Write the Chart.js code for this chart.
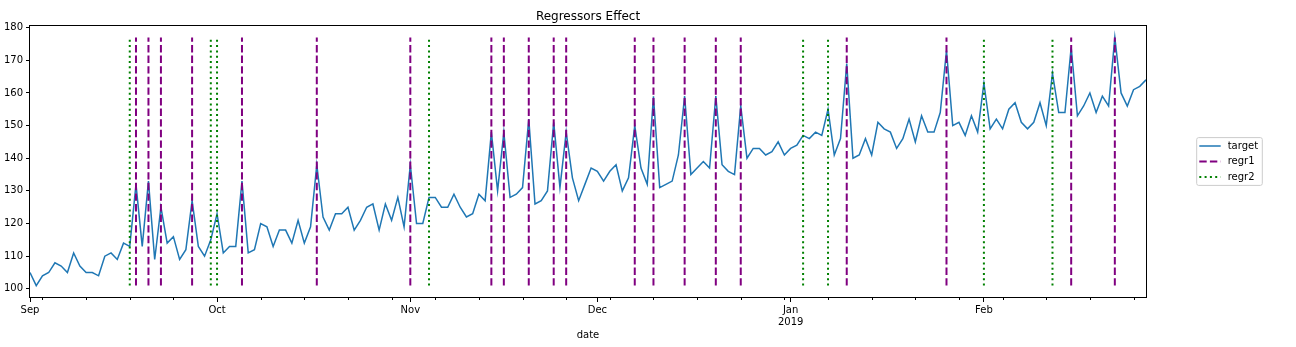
<!DOCTYPE html>
<html lang="en">
<head>
    <meta charset="UTF-8">
    <title>Regressors Effect</title>
    <script src="https://cdn.jsdelivr.net/npm/chart.js@4"></script>
    <style>
        html, body { margin: 0; padding: 0; background: #fff; }
        #wrap { width: 1296px; height: 347px; }
    </style>
</head>
<body>
<div id="wrap"><canvas id="chart" width="1296" height="347"></canvas></div>
<script>
    // daily series, starting at startDate
    const startDate = '2018-09-01';
    const target = [
        105, 101, 104, 105, 108, 107, 105, 111, 107, 105,
        105, 104, 110, 111, 109, 114, 113, 132, 113, 133,
        109, 125, 114, 116, 109, 112, 127, 113, 110, 115,
        123, 111, 113, 113, 133, 111, 112, 120, 119, 113,
        118, 118, 114, 121, 114, 119, 138, 122, 118, 123,
        123, 125, 118, 121, 125, 126, 118, 126, 121, 128,
        119, 138, 120, 120, 128, 128, 125, 125, 129, 125,
        122, 123, 129, 127, 148, 130, 148, 128, 129, 131,
        152, 126, 127, 130, 151, 131, 148, 134, 127, 132,
        137, 136, 133, 136, 138, 130, 134, 150, 137, 132,
        159, 131, 132, 133, 141, 159, 135, 137, 139, 137,
        159, 138, 136, 135, 156, 140, 143, 143, 141, 142,
        145, 141, 143, 144, 147, 146, 148, 147, 155, 141,
        146, 169, 140, 141, 146, 141, 151, 149, 148, 143,
        146, 152, 145, 153, 148, 148, 154, 173, 150, 151,
        147, 153, 148, 163, 149, 152, 149, 155, 157, 151,
        149, 151, 157, 150, 166, 154, 154, 174, 153, 156,
        160, 154, 159, 156, 177, 160, 156, 161, 162, 164
    ];

    const regr1Dates = [
        '2018-09-18', '2018-09-20', '2018-09-22', '2018-09-27', '2018-10-05',
        '2018-10-17', '2018-11-01', '2018-11-14', '2018-11-16', '2018-11-20',
        '2018-11-24', '2018-11-26', '2018-12-07', '2018-12-10', '2018-12-15',
        '2018-12-20', '2018-12-24', '2019-01-10', '2019-01-26', '2019-02-15',
        '2019-02-22'
    ];
    const regr2Dates = [
        '2018-09-17', '2018-09-30', '2018-10-01', '2018-11-04',
        '2019-01-03', '2019-01-07', '2019-02-01', '2019-02-12'
    ];

    // x ticks: month starts (labelled) and weekly mondays (short, unlabelled)
    const monthTickDays = [0, 30, 61, 91, 122, 153];
    const monthTickLabels = [['Sep'], ['Oct'], ['Nov'], ['Dec'], ['Jan', '2019'], ['Feb']];
    const weekTickDays = [2, 9, 16, 23, 37, 44, 51, 58, 65, 72, 79, 86, 93,
        100, 107, 114, 121, 128, 135, 142, 149, 156, 163, 170, 177];
    const yTicks = [100, 110, 120, 130, 140, 150, 160, 170, 180];
    const yMin = 97.2, yMax = 180.8;

    const FONT = "'DejaVu Sans', sans-serif";
    Chart.defaults.font.family = FONT;
    Chart.defaults.font.size = 10;
    Chart.defaults.color = '#000';

    const DAY = 86400000;
    const dayIndex = s => Math.round((Date.parse(s) - Date.parse(startDate)) / DAY);

    // vertical lines go from min to max of the target
    const yLo = Math.min(...target);
    const yHi = Math.max(...target);
    function vlineData(dates) {
        const pts = [];
        dates.forEach(d => {
            const x = dayIndex(d);
            pts.push({ x: x, y: yLo }, { x: x, y: yHi }, { x: x, y: null });
        });
        return pts;
    }

    // box around the plot, short minor ticks, legend on the right
    const frame = {
        id: 'frame',
        afterDraw(chart) {
            const { ctx, chartArea: a } = chart;
            ctx.save();
            ctx.strokeStyle = '#000';
            ctx.lineWidth = 1;
            ctx.strokeRect(Math.round(a.left) - 0.5, Math.round(a.top) + 0.5,
                Math.round(a.right - a.left) + 1, Math.round(a.bottom - a.top) - 1);

            const xs = chart.scales.x;
            ctx.beginPath();
            weekTickDays.forEach(d => {
                const px = Math.round(xs.getPixelForValue(d)) + 0.5;
                ctx.moveTo(px, Math.round(a.bottom));
                ctx.lineTo(px, Math.round(a.bottom) + 2);
            });
            ctx.stroke();

            const sets = chart.data.datasets;
            const rowH = 15.5, pad = 8.4;
            const x0 = a.right + 50.7;
            const h = pad * 2 + rowH * (sets.length - 1);
            const y0 = (a.top + a.bottom) / 2 - h / 2;
            ctx.beginPath();
            ctx.roundRect(x0, y0, 65.6, h, 2);
            ctx.fillStyle = 'rgba(255,255,255,0.8)';
            ctx.fill();
            ctx.strokeStyle = '#cccccc';
            ctx.lineWidth = 1;
            ctx.stroke();

            sets.forEach((ds, i) => {
                const y = y0 + pad + i * rowH;
                ctx.beginPath();
                ctx.strokeStyle = ds.borderColor;
                ctx.lineWidth = ds.borderWidth;
                ctx.setLineDash(ds.borderDash || []);
                ctx.moveTo(x0 + 2.6, y);
                ctx.lineTo(x0 + 24, y);
                ctx.stroke();
                ctx.setLineDash([]);
                ctx.fillStyle = '#000';
                ctx.font = '10px ' + FONT;
                ctx.textBaseline = 'middle';
                ctx.fillText(ds.label, x0 + 31, y);
            });
            ctx.restore();
        }
    };

    const ctx = document.getElementById('chart').getContext('2d');
    new Chart(ctx, {
        type: 'line',
        data: {
            datasets: [{
                label: 'target',
                data: target.map((v, i) => ({ x: i, y: v })),
                borderColor: '#1f77b4',
                borderWidth: 1.5,
                pointRadius: 0,
                tension: 0,
                order: 1
            }, {
                label: 'regr1',
                data: vlineData(regr1Dates),
                borderColor: '#800080',
                borderWidth: 2,
                borderDash: [7.4, 3.2],
                pointRadius: 0,
                spanGaps: false,
                order: 0
            }, {
                label: 'regr2',
                data: vlineData(regr2Dates),
                borderColor: '#008000',
                borderWidth: 2,
                borderDash: [2, 3.3],
                pointRadius: 0,
                spanGaps: false,
                order: 0
            }]
        },
        options: {
            responsive: false,
            animation: false,
            layout: { padding: { left: 0, right: 150, top: 0, bottom: 0 } },
            plugins: {
                legend: { display: false },
                tooltip: { enabled: false },
                title: {
                    display: true,
                    text: 'Regressors Effect',
                    fullSize: false,
                    font: { size: 12, weight: 'normal' },
                    color: '#000',
                    padding: { top: 9.3, bottom: 1.3 }
                }
            },
            scales: {
                x: {
                    type: 'linear',
                    min: 0,
                    max: target.length - 1,
                    border: { display: false },
                    grid: { display: true, drawOnChartArea: false, tickLength: 4, tickColor: '#000' },
                    ticks: {
                        autoSkip: false,
                        maxRotation: 0,
                        padding: 2,
                        callback: function(value) {
                            const k = monthTickDays.indexOf(value);
                            return k >= 0 ? monthTickLabels[k] : '';
                        }
                    },
                    afterBuildTicks: function(scale) {
                        scale.ticks = monthTickDays.map(v => ({ value: v }));
                    },
                    afterFit: function(scale) { scale.height = 49; },
                    title: {
                        display: true,
                        text: 'date',
                        font: { size: 10 },
                        padding: { top: 0, bottom: 6 }
                    }
                },
                y: {
                    min: yMin,
                    max: yMax,
                    border: { display: false },
                    grid: { display: true, drawOnChartArea: false, tickLength: 4, tickColor: '#000' },
                    ticks: { padding: 3 },
                    afterBuildTicks: function(scale) {
                        scale.ticks = yTicks.map(v => ({ value: v }));
                    },
                    afterFit: function(scale) { scale.width = 30; }
                }
            }
        },
        plugins: [frame]
    });
</script>
</body>
</html>
